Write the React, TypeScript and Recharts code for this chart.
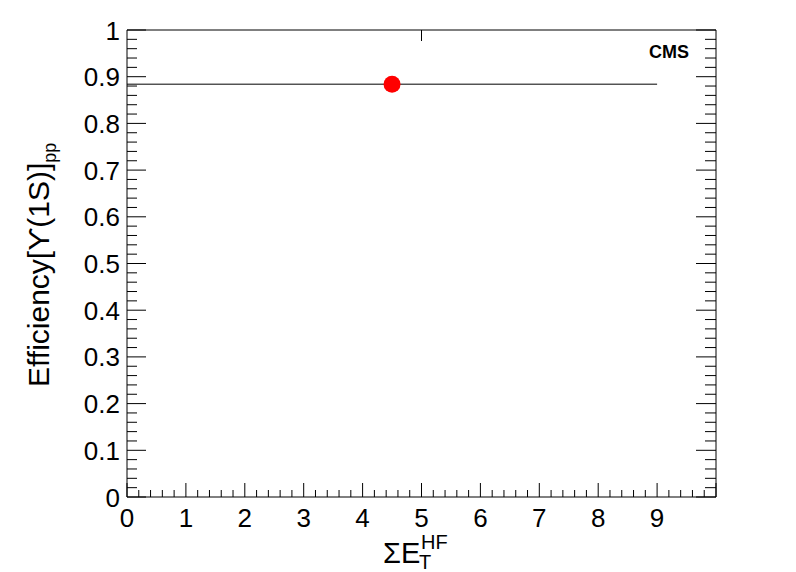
import React from 'react';
import { ComposedChart, Scatter, XAxis, YAxis, ErrorBar } from 'recharts';

const xMajorTicks = [0, 1, 2, 3, 4, 5, 6, 7, 8, 9, 10];
const xTickLabels = ['0', '1', '2', '3', '4', '5', '6', '7', '8', '9'];
const yMajorTicks = [0, 0.1, 0.2, 0.3, 0.4, 0.5, 0.6, 0.7, 0.8, 0.9, 1];
const yTickLabels = ['0', '0.1', '0.2', '0.3', '0.4', '0.5', '0.6', '0.7', '0.8', '0.9', '1'];

const binCenters = [4.5];
const efficiency = [0.884];
const binHalfWidths = [4.5];

const data = binCenters.map((x, i) => ({ x, y: efficiency[i], ex: binHalfWidths[i] }));

const subdivide = (majors: number[], n: number) => {
  const out: number[] = [];
  for (let i = 0; i < majors.length - 1; i++) {
    const a = majors[i];
    const b = majors[i + 1];
    for (let k = 0; k < n; k++) out.push(+(a + ((b - a) * k) / n).toFixed(4));
  }
  out.push(majors[majors.length - 1]);
  return out;
};

const xAllTicks = subdivide(xMajorTicks, 5);
const yAllTicks = subdivide(yMajorTicks, 5);

const FONT = '"Liberation Sans", Arial, Helvetica, sans-serif';

const isMajor = (v: number, majors: number[]) => majors.some((m) => Math.abs(m - v) < 1e-6);

const BottomTick = (props: any) => {
  const { x, y, payload } = props;
  const v = payload.value;
  const idx = xMajorTicks.findIndex((m) => Math.abs(m - v) < 1e-6);
  const major = idx >= 0;
  return (
    <g>
      <line x1={x} x2={x} y1={y} y2={y - (major ? 14 : 7)} stroke="#000" strokeWidth={1} />
      {major && xTickLabels[idx] !== undefined ? (
        <text x={x} y={y + 30} textAnchor="middle" fontSize={26} fontFamily={FONT} fill="#000">
          {xTickLabels[idx]}
        </text>
      ) : null}
    </g>
  );
};

const TopTick = (props: any) => {
  const { x, y, payload } = props;
  const major = isMajor(payload.value, xMajorTicks);
  return <line x1={x} x2={x} y1={y} y2={y + (major ? 11 : 6)} stroke="#000" strokeWidth={1} />;
};

const LeftTick = (props: any) => {
  const { x, y, payload } = props;
  const v = payload.value;
  const idx = yMajorTicks.findIndex((m) => Math.abs(m - v) < 1e-6);
  const major = idx >= 0;
  return (
    <g>
      <line x1={x} x2={x + (major ? 19 : 10)} y1={y} y2={y} stroke="#000" strokeWidth={1} />
      {major ? (
        <text x={x - 7} y={y + 9.5} textAnchor="end" fontSize={26} fontFamily={FONT} fill="#000">
          {yTickLabels[idx]}
        </text>
      ) : null}
    </g>
  );
};

const RightTick = (props: any) => {
  const { x, y, payload } = props;
  const major = isMajor(payload.value, yMajorTicks);
  return <line x1={x} x2={x - (major ? 20 : 11)} y1={y} y2={y} stroke="#000" strokeWidth={1} />;
};

const Dot = (props: any) => {
  const { cx, cy } = props;
  if (cx == null || cy == null) return <g />;
  return <circle cx={cx} cy={cy} r={8.5} fill="#ff0000" />;
};

const YLabel = () => (
  <text transform="translate(49,387) rotate(-90)" fontFamily={FONT} fontSize={30} fill="#000" textAnchor="start">
    <tspan>Efficiency[ϒ(1S)]</tspan>
    <tspan fontSize={18} dy={7}>pp</tspan>
  </text>
);

const XLabel = () => (
  <text fontFamily={FONT} fill="#000">
    <tspan x={383} y={563} fontSize={29}>ΣE</tspan>
    <tspan x={419} y={569} fontSize={20}>T</tspan>
    <tspan x={421} y={549} fontSize={20}>HF</tspan>
  </text>
);

export default function App() {
  return (
    <div style={{ position: 'absolute', left: 0, top: 0, width: 796, height: 572, background: '#fff' }}>
      <ComposedChart width={796} height={572} data={data} margin={{ top: 29, right: 79, bottom: 35, left: 67 }}>
        <XAxis
          xAxisId="b"
          dataKey="x"
          type="number"
          orientation="bottom"
          domain={[0, 10]}
          allowDataOverflow
          ticks={xAllTicks}
          interval={0}
          height={40}
          tickSize={0}
          tickMargin={0}
          tickLine={false}
          axisLine={{ stroke: '#000', strokeWidth: 1 }}
          tick={<BottomTick />}
          label={{ content: () => <XLabel /> }}
        />
        <XAxis
          xAxisId="t"
          type="number"
          orientation="top"
          domain={[0, 10]}
          allowDataOverflow
          ticks={xAllTicks}
          interval={0}
          height={1}
          tickSize={0}
          tickMargin={0}
          tickLine={false}
          axisLine={{ stroke: '#000', strokeWidth: 1 }}
          tick={<TopTick />}
        />
        <YAxis
          yAxisId="l"
          dataKey="y"
          type="number"
          orientation="left"
          domain={[0, 1]}
          allowDataOverflow
          ticks={yAllTicks}
          interval={0}
          width={60}
          tickSize={0}
          tickMargin={0}
          tickLine={false}
          axisLine={{ stroke: '#000', strokeWidth: 1 }}
          tick={<LeftTick />}
          label={{ content: () => <YLabel /> }}
        />
        <YAxis
          yAxisId="r"
          type="number"
          orientation="right"
          domain={[0, 1]}
          allowDataOverflow
          ticks={yAllTicks}
          interval={0}
          width={1}
          tickSize={0}
          tickMargin={0}
          tickLine={false}
          axisLine={{ stroke: '#000', strokeWidth: 1 }}
          tick={<RightTick />}
        />
        <Scatter xAxisId="b" yAxisId="l" dataKey="y" isAnimationActive={false} shape={<Dot />}>
          <ErrorBar dataKey="ex" direction="x" width={0} stroke="#000" strokeWidth={1} isAnimationActive={false} />
        </Scatter>
        <text x={669} y={58} textAnchor="middle" fontFamily={FONT} fontWeight="bold" fontSize={18} fill="#000">
          CMS
        </text>
      </ComposedChart>
    </div>
  );
}
